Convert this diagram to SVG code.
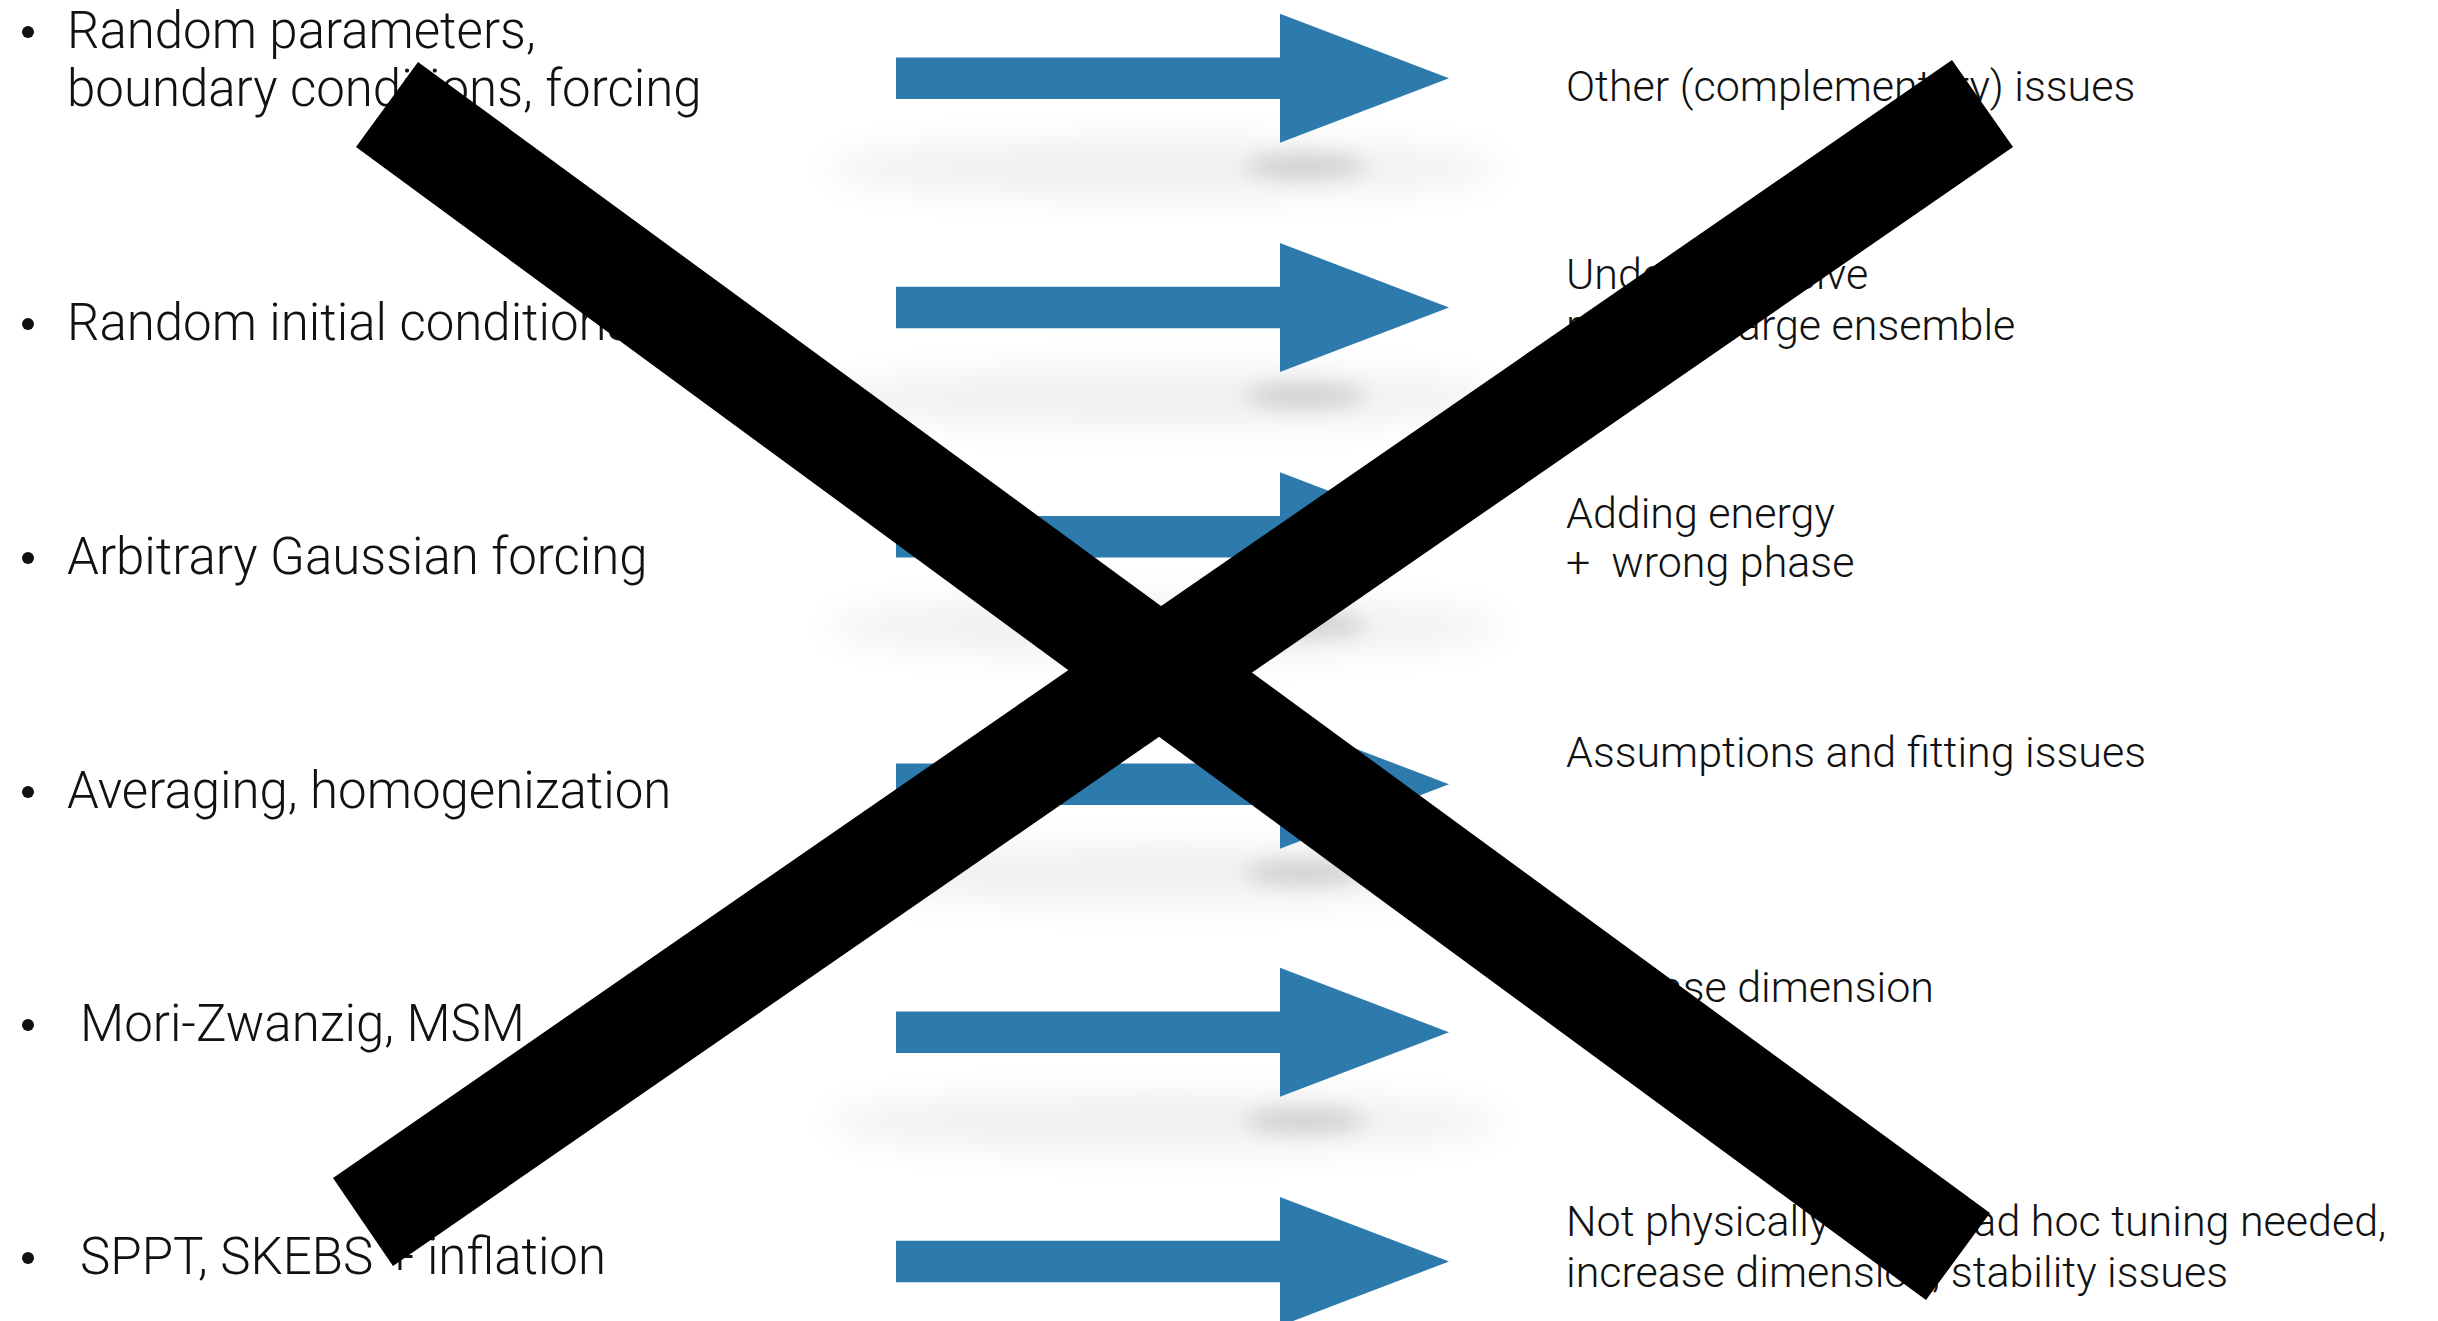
<svg xmlns="http://www.w3.org/2000/svg" width="2438" height="1321" viewBox="0 0 2438 1321">
<style>
.l{font-family:Roboto,"Liberation Sans",Arial,sans-serif;font-weight:300;font-size:51px;fill:#111}
.r{font-family:Roboto,"Liberation Sans",Arial,sans-serif;font-weight:300;font-size:43px;fill:#111;white-space:pre}
.arr{fill:#2d7aad}
.bar{fill:#000}
</style>
<defs>
<filter id="blurA" x="-50%" y="-300%" width="200%" height="700%"><feGaussianBlur stdDeviation="18"/></filter>
<filter id="blurB" x="-100%" y="-300%" width="300%" height="700%"><feGaussianBlur stdDeviation="10"/></filter>
<g id="shadow">
<ellipse cx="1165" cy="90" rx="340" ry="30" fill="#000" opacity="0.06" filter="url(#blurA)"/>
<ellipse cx="1305" cy="88" rx="60" ry="13" fill="#000" opacity="0.13" filter="url(#blurB)"/>
</g>
<path id="arrow" d="M896,-20.7 H1280 V-64.5 L1449,0 L1280,64.5 V20.7 H896 Z"/>
</defs>
<rect width="2438" height="1321" fill="#fff"/>
<g id="connectors">
<use href="#shadow" y="78.3"/>
<use href="#shadow" y="307.5"/>
<use href="#shadow" y="536.7"/>
<use href="#shadow" y="784.3"/>
<use href="#shadow" y="1032.3"/>
<use href="#shadow" y="1261.5"/>
<use href="#arrow" class="arr" y="78.3"/>
<use href="#arrow" class="arr" y="307.5"/>
<use href="#arrow" class="arr" y="536.7"/>
<use href="#arrow" class="arr" y="784.3"/>
<use href="#arrow" class="arr" y="1032.3"/>
<use href="#arrow" class="arr" y="1261.5"/>
</g>
<g id="left1"><circle cx="28" cy="32" r="6" fill="#111"/><text class="l" x="67" y="48">Random parameters,</text><text class="l" x="67" y="106">boundary conditions, forcing</text></g>
<g id="left2"><circle cx="28" cy="324" r="6" fill="#111"/><text class="l" x="67" y="340">Random initial conditions</text></g>
<g id="left3"><circle cx="28" cy="558" r="6" fill="#111"/><text class="l" x="67" y="574">Arbitrary Gaussian forcing</text></g>
<g id="left4"><circle cx="28" cy="792" r="6" fill="#111"/><text class="l" x="67" y="808">Averaging, homogenization</text></g>
<g id="left5"><circle cx="28" cy="1025" r="6" fill="#111"/><text class="l" x="80" y="1041">Mori-Zwanzig, MSM</text></g>
<g id="left6"><circle cx="28" cy="1258" r="6" fill="#111"/><text class="l" x="80" y="1274">SPPT, SKEBS + inflation</text></g>
<g id="right1"><text class="r" x="1566" y="101">Other (complementary) issues</text></g>
<g id="right2"><text class="r" x="1566" y="289">Underdispersive</text><text class="r" x="1566" y="340">requires large ensemble</text></g>
<g id="right3"><text class="r" x="1566" y="528">Adding energy</text><text class="r" x="1566" y="577">+  wrong phase</text></g>
<g id="right4"><text class="r" x="1566" y="767">Assumptions and fitting issues</text></g>
<g id="right5"><text class="r" x="1566" y="1002">Increase dimension</text></g>
<g id="right6"><text class="r" x="1566" y="1236">Not physically based, ad hoc tuning needed,</text><text class="r" x="1566" y="1287">increase dimension, stability issues</text></g>
<g id="cross">
<polygon class="bar" points="418,62 1990,1213 1926,1300 356,147"/>
<polygon class="bar" points="1952,60 2013,147 393,1266 333,1178"/>
</g>
</svg>
